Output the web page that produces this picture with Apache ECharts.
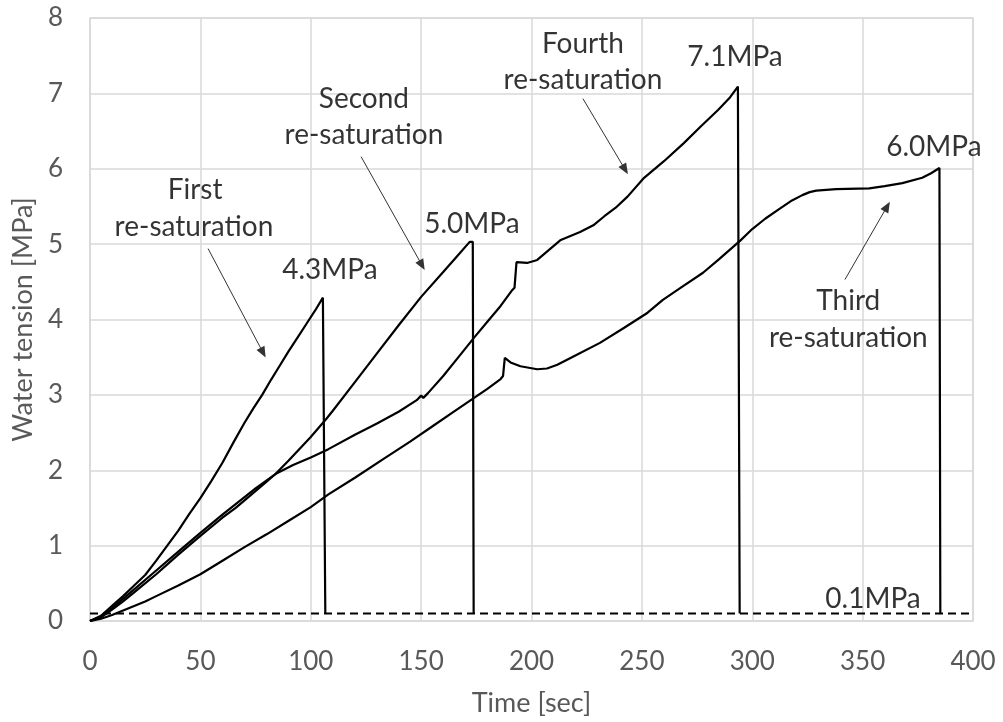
<!DOCTYPE html>
<html>
<head>
<meta charset="utf-8">
<script src="https://cdn.jsdelivr.net/npm/echarts@6/dist/echarts.min.js"></script>
<style>
html,body{margin:0;padding:0;background:#fff;}
#chart{width:1003px;height:722px;}
</style>
</head>
<body>
<div id="chart"></div>
<script>
// ---- Data (time [sec], water tension [MPa]) ----
const xTicks = [0, 50, 100, 150, 200, 250, 300, 350, 400];
const yTicks = [0, 1, 2, 3, 4, 5, 6, 7, 8];

const firstResat = [
  [0,0],[5,0.07],[10,0.2],[15,0.33],[20,0.47],[25,0.61],[30,0.8],[35,1.0],[40,1.2],
  [45,1.42],[50,1.63],[55,1.86],[60,2.1],[65,2.37],[70,2.63],[74,2.82],[78,3.0],
  [82,3.2],[86,3.39],[90,3.58],[94,3.76],[98,3.94],[102,4.12],[105.5,4.29],[106.4,4.29],[106.6,0.1]
];

const secondResat = [
  [0,0],[5,0.05],[10,0.15],[15,0.26],[20,0.38],[30,0.62],[40,0.88],[50,1.13],[60,1.37],
  [66,1.5],[70,1.6],[80,1.85],[84,1.95],[90,2.13],[100,2.44],[107,2.68],[110,2.79],
  [120,3.17],[130,3.55],[140,3.93],[150,4.3],[160,4.63],[166,4.83],[172,5.03],
  [173.4,5.03],[173.8,0.1]
];

const thirdResat = [
  [0,0],[5,0.03],[10,0.08],[15,0.14],[20,0.2],[25,0.26],[30,0.33],[40,0.47],[50,0.62],
  [60,0.8],[70,0.98],[80,1.15],[90,1.33],[100,1.51],[108,1.68],[120,1.9],[133,2.15],
  [145,2.38],[155,2.58],[165,2.78],[174,2.96],[180,3.08],[186,3.21],[187.1,3.25],
  [187.9,3.49],[190.5,3.43],[195,3.38],[202.6,3.34],[207,3.35],[211.7,3.4],[219,3.51],
  [231,3.69],[242,3.89],[252.6,4.09],[259.5,4.26],[268,4.43],[277.7,4.62],[285,4.8],
  [294.7,5.05],[300,5.2],[306,5.34],[312,5.46],[318,5.58],[322.7,5.65],[326,5.69],
  [329,5.71],[338,5.73],[353,5.74],[360,5.77],[368,5.81],[377,5.88],[381,5.94],
  [384.8,6.01],[385.2,0.1]
];

const fourthResat = [
  [0,0],[5,0.06],[10,0.17],[20,0.42],[30,0.67],[40,0.92],[50,1.17],[60,1.41],[66,1.55],
  [75,1.76],[84,1.95],[92,2.07],[100,2.17],[108,2.28],[120,2.47],[130,2.62],[140,2.78],
  [148,2.93],[150,2.99],[151,2.96],[153,3.02],[160,3.25],[168,3.54],[174,3.76],[180,3.97],
  [186,4.18],[191,4.38],[192.3,4.42],[193.2,4.76],[198,4.75],[202.6,4.79],[207,4.9],
  [213,5.05],[222,5.16],[228,5.25],[233,5.37],[238,5.48],[243.5,5.63],[251,5.88],
  [260,6.1],[269,6.34],[277,6.57],[284.5,6.78],[290,6.95],[293.5,7.09],[294,7.1],[294.3,0.1]
];

const thresholdLine = [[0,0.1],[400,0.1]];

// Annotation texts (centre, in data coordinates)
const labelTexts = ['First','re-saturation','4.3MPa','Second','re-saturation','5.0MPa',
                    'Fourth','re-saturation','7.1MPa','6.0MPa','Third','re-saturation','0.1MPa'];
const labelT = [47.6, 47.1, 108.7, 124.1, 124.1, 173.0, 223.3, 223.3, 292.2, 382.3, 343.5, 343.5, 354.7];
const labelV = [5.72, 5.23, 4.66, 6.93, 6.45, 5.27, 7.66, 7.18, 7.48, 6.29, 4.24, 3.76, 0.29];

// Arrows: [t start, v start, t tip, v tip]
const arrowLines = [
  [53.5, 4.94, 78.4, 3.56],
  [122.8, 6.16, 150.4, 4.72],
  [223.3, 6.93, 242.4, 5.99],
  [342.0, 4.53, 361.1, 5.5]
];

const FONT = 'Lato, "Open Sans", sans-serif';
const GRID_COLOR = '#d9d9d9';
const TEXT_GREY = '#595959';

const chart = echarts.init(document.getElementById('chart'), null, {renderer: 'canvas'});

function curve(name, data) {
  return {
    name: name, type: 'line', data: data, showSymbol: false, symbol: 'none',
    smooth: false, silent: true, animation: false,
    lineStyle: {color: '#000', width: 2.2}
  };
}

const option = {
  animation: false,
  backgroundColor: '#fff',
  grid: {left: 90, right: 30, top: 18, bottom: 100, show: true,
         borderColor: GRID_COLOR, borderWidth: 1.5, containLabel: false},
  xAxis: {
    type: 'value', min: xTicks[0], max: xTicks[xTicks.length - 1], interval: xTicks[1] - xTicks[0],
    name: 'Time [sec]', nameLocation: 'middle', nameGap: 69,
    nameTextStyle: {color: TEXT_GREY, fontSize: 27, fontFamily: FONT},
    axisLine: {show: false}, axisTick: {show: false},
    axisLabel: {color: TEXT_GREY, fontSize: 26, fontFamily: FONT, margin: 28},
    splitLine: {show: true, lineStyle: {color: GRID_COLOR, width: 1.5}}
  },
  yAxis: {
    type: 'value', min: yTicks[0], max: yTicks[yTicks.length - 1], interval: yTicks[1] - yTicks[0],
    name: 'Water tension [MPa]', nameLocation: 'middle', nameGap: 40, nameRotate: 90,
    nameTextStyle: {color: TEXT_GREY, fontSize: 27, fontFamily: FONT},
    axisLine: {show: false}, axisTick: {show: false},
    axisLabel: {color: TEXT_GREY, fontSize: 26, fontFamily: FONT, margin: 27},
    splitLine: {show: true, lineStyle: {color: GRID_COLOR, width: 1.5}}
  },
  series: [
    {
      name: 'threshold', type: 'line', data: thresholdLine, showSymbol: false, symbol: 'none',
      silent: true, lineStyle: {color: '#000', width: 2, type: [8, 5]},
      markLine: {
        silent: true, animation: false,
        symbol: ['none', 'triangle'], symbolSize: [9, 11],
        lineStyle: {color: '#333', width: 1, type: 'solid'},
        label: {show: false},
        data: arrowLines.map(a => [{coord: [a[0], a[1]]}, {coord: [a[2], a[3]]}])
      }
    },
    curve('First re-saturation', firstResat),
    curve('Second re-saturation', secondResat),
    curve('Third re-saturation', thirdResat),
    curve('Fourth re-saturation', fourthResat),
    {
      name: 'labels', type: 'scatter', silent: true, symbolSize: 0,
      data: labelTexts.map((txt, i) => ({name: txt, value: [labelT[i], labelV[i]]})),
      label: {show: true, position: 'inside', formatter: '{b}', color: '#000',
              fontSize: 28, fontFamily: FONT}
    }
  ]
};

chart.setOption(option);
</script>
</body>
</html>
